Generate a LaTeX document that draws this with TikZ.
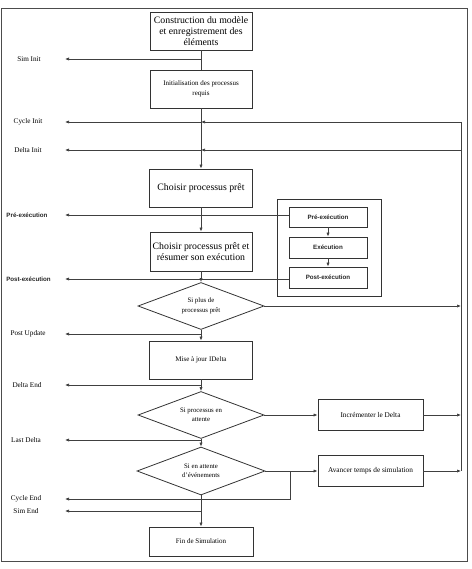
\documentclass[tikz,border=0pt]{standalone}
\usepackage{fontspec}
\setmainfont{Liberation Serif}
\newfontfamily\lsans{Liberation Sans}
\usetikzlibrary{shapes.geometric,arrows.meta}
\begin{document}
\begin{tikzpicture}[x=1pt,y=-1pt,
  box/.style={draw=black!80,line width=0.8pt,inner sep=1pt,align=center,text=black},
  dia/.style={draw=black!80,line width=0.8pt,shape=diamond,aspect=2.7,inner sep=0pt,align=center,text=black,minimum width=126pt,minimum height=47pt,font=\fontsize{6.8}{9.5}\selectfont},
  conn/.style={draw=black!75,line width=0.7pt},
  arr/.style={conn,-{Latex[length=4pt,width=3.2pt]}},
  lab/.style={font=\fontsize{7.2}{8}\selectfont,text=black,inner sep=0pt},
  slab/.style={font=\lsans\bfseries\fontsize{6.2}{8}\selectfont,text=black!85,inner sep=0pt},
  big/.style={font=\fontsize{9.8}{11}\selectfont},
  small/.style={font=\fontsize{7}{9.5}\selectfont}]
\useasboundingbox (0,0) rectangle (471,569);
\draw[black!70,line width=0.9pt] (1,8) rectangle (467,561);

% main column
\node[box,big,minimum width=102pt,minimum height=38pt] (b1) at (201,31) {Construction du modèle\\et enregistrement des\\éléments};
\node[box,small,minimum width=102pt,minimum height=38pt] (b2) at (201,89) {Initialisation des processus\\requis};
\node[box,big,minimum width=103pt,minimum height=38pt] (b3) at (201,188) {Choisir processus prêt};
\node[box,big,minimum width=102pt,minimum height=39pt] (b4) at (201,251.5) {Choisir processus prêt et\\résumer son exécution};
\node[dia] (d1) at (201,306) {Si plus de\\processus prêt};
\node[box,small,minimum width=103pt,minimum height=38pt] (b5) at (201,360) {Mise à jour IDelta};
\node[dia,font=\fontsize{6.8}{9}\selectfont] (d2) at (201,415) {Si processus en\\attente};
\node[dia,minimum height=48pt,minimum width=128pt] (d3) at (201,471) {Si en attente\\d'événements};
\node[box,small,minimum width=104pt,minimum height=29pt] (fin) at (201,541.5) {Fin de Simulation};

% right boxes
\node[box,small,font=\fontsize{7.3}{9}\selectfont,minimum width=105pt,minimum height=31pt] (inc) at (370.5,415) {Incrémenter le Delta};
\node[box,small,font=\fontsize{7.3}{9}\selectfont,minimum width=105pt,minimum height=31pt] (av) at (370.5,471) {Avancer temps de simulation};

% execution group
\node[box,minimum width=104pt,minimum height=97pt] (grp) at (329,247.5) {};
\node[box,slab,minimum width=78pt,minimum height=20pt] (pe1) at (328,217) {Pré-exécution};
\node[box,slab,minimum width=78pt,minimum height=21pt] (ex) at (328,247.5) {Exécution};
\node[box,slab,minimum width=78pt,minimum height=21pt] (pe2) at (328,277.5) {Post-exécution};

% left labels
\node[lab] (lSim) at (29,59) {Sim Init};
\node[lab] (lCI) at (28,122) {Cycle Init};
\node[lab] (lDI) at (28,150) {Delta Init};
\node[slab] (lPre) at (27,215) {Pré-exécution};
\node[slab] (lPost) at (28.5,279) {Post-exécution};
\node[lab] (lPU) at (28,334) {Post Update};
\node[lab] (lDE) at (27,385) {Delta End};
\node[lab] (lLD) at (26,440) {Last Delta};
\node[lab] (lCE) at (26,499) {Cycle End};
\node[lab] (lSE) at (26,511) {Sim End};

% arrow end points
\coordinate (tSim) at (65,59);
\coordinate (tCI) at (65,122);
\coordinate (tDI) at (65,150);
\coordinate (tPre) at (65,215);
\coordinate (tPost) at (65,279);
\coordinate (tPU) at (65,334);
\coordinate (tDE) at (65,385);
\coordinate (tLD) at (65,440);
\coordinate (tCE) at (65,499);
\coordinate (tSE) at (65,511);
\coordinate (rCI) at (461,122);
\coordinate (rDI) at (461,150);
\coordinate (br) at (290,471);
\coordinate (brd) at (290,499);

% main flow
\draw[conn] (b1) -- (b2);
\draw[arr] (b1.south |- tSim) -- (tSim);
\draw[arr] (b2) -- (b3);
\draw[arr] (rCI) -- (b2.south |- rCI);
\draw[arr] (b2.south |- rCI) -- (tCI);
\draw[arr] (rDI) -- (b2.south |- rDI);
\draw[arr] (b2.south |- rDI) -- (tDI);
\draw[arr] (b3) -- (b4);
\draw[arr] (pe1.west |- tPre) -- (tPre);
\draw[arr] (b4) -- (d1);
\draw[arr] (pe2.west |- tPost) -- (tPost);
\draw[arr] (d1.east) -- (d1.east -| rCI);
\draw[arr] (d1) -- (b5);
\draw[arr] (d1.south |- tPU) -- (tPU);
\draw[arr] (b5) -- (d2);
\draw[arr] (b5.south |- tDE) -- (tDE);
\draw[arr] (d2.east) -- (inc.west);
\draw[arr] (inc.east) -- (inc.east -| rCI);
\draw[arr] (d2) -- (d3);
\draw[arr] (d2.south |- tLD) -- (tLD);
\draw[arr] (d3.east) -- (av.west);
\draw[arr] (br) -- (brd) -- (tCE);
\draw[arr] (av.east) -- (av.east -| rCI);
\draw[conn] (rCI) -- (av.east -| rCI);
\draw[arr] (d3) -- (fin);
\draw[arr] (d3.south |- tSE) -- (tSE);

% inner flow
\draw[arr] (pe1) -- (ex);
\draw[arr] (ex) -- (pe2);
\end{tikzpicture}
\end{document}
